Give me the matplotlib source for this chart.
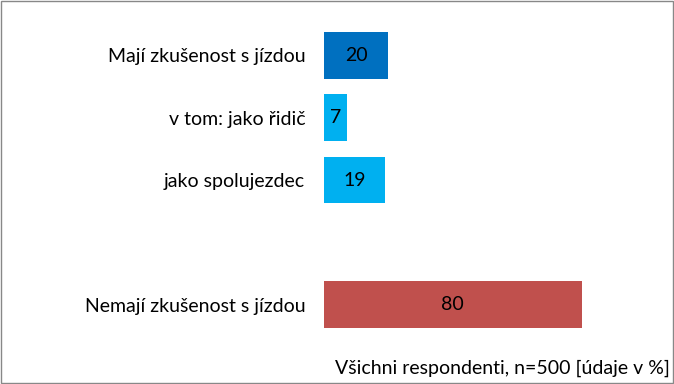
import matplotlib
matplotlib.use('Agg')
from matplotlib import pyplot as plt
from matplotlib.patches import Rectangle

labels = ['Mají zkušenost s jízdou', 'v tom: jako řidič', 'jako spolujezdec', '', 'Nemají zkušenost s jízdou']
values = [20, 7, 19, None, 80]
colors = ['#0070C0', '#00B0F0', '#00B0F0', None, '#C0504D']
note = 'Všichni respondenti, n=500 [údaje v %]'

plt.rcParams['font.family'] = ['Lato', 'DejaVu Sans']

fig = plt.figure(figsize=(6.74, 3.84), dpi=100)
ax = fig.add_axes([324 / 674, 1 - 336 / 384, 322 / 674, 312 / 384])

for i, (v, c) in enumerate(zip(values, colors)):
    if v is None:
        continue
    ax.barh(i, v, height=0.75, color=c)
    ax.text(v / 2, i, str(v), ha='center', va='center', fontsize=14, color='black')

ax.set_xlim(0, 100)
ax.set_ylim(4.5, -0.5)
ax.set_yticks(range(len(labels)))
ax.set_yticklabels(labels, fontsize=14)
ax.tick_params(axis='y', length=0, pad=13.5)
ax.set_xticks([])
for s in ax.spines.values():
    s.set_visible(False)

fig.text(670 / 674, 1 - 368 / 384, note, ha='right', va='center', fontsize=14)
fig.patches.append(Rectangle((0.001, 0.002), 0.997, 0.995, transform=fig.transFigure,
                             fill=False, edgecolor='#888888', linewidth=1))

fig.savefig('out.png', dpi=100)
